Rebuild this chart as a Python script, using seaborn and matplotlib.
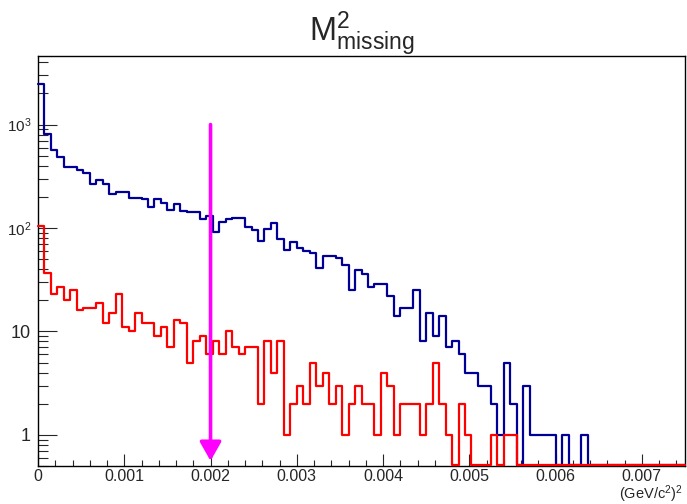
import numpy as np
import pandas as pd
import matplotlib
matplotlib.use("Agg")
import matplotlib.pyplot as plt
import seaborn as sns
from matplotlib.ticker import FixedLocator, NullFormatter

# ---- data (100 bins from 0 to 0.0075) ----
x_min = 0.0
x_max = 0.0075
n_bins = 100

blue_counts = [
    2440, 815, 570, 485, 385, 393, 365, 340, 266, 292,
    268, 213, 225, 222, 196, 196, 190, 161, 192, 174,
    148, 170, 147, 144, 142, 123, 132, 92, 113, 123,
    126, 126, 103, 95, 75, 97, 111, 78, 61, 73,
    64, 60, 57, 41, 54, 54, 51, 44, 25, 39,
    36, 27, 29, 29, 22, 14, 17, 17, 25, 8,
    15, 9, 14, 7, 8, 6, 4, 4, 3, 3,
    2, 1, 5, 2, 0, 3, 1, 1, 1, 1,
    0, 1, 0, 0, 1, 0, 0, 0, 0, 0,
    0, 0, 0, 0, 0, 0, 0, 0, 0, 0,
]

red_counts = [
    105, 37, 23, 27, 20, 25, 16, 17, 17, 19,
    12, 15, 23, 11, 10, 15, 12, 12, 9, 11,
    7, 13, 12, 5, 8, 9, 6, 8, 6, 10,
    7, 6, 7, 7, 2, 8, 4, 8, 1, 2,
    3, 2, 5, 3, 4, 2, 3, 1, 2, 3,
    2, 2, 1, 4, 3, 1, 2, 2, 2, 1,
    2, 5, 2, 1, 0, 2, 1, 0, 0, 0,
    1, 0, 1, 1, 0, 0, 0, 0, 0, 0,
    0, 0, 0, 0, 0, 0, 0, 0, 0, 0,
    0, 0, 0, 0, 0, 0, 0, 0, 0, 0,
]

x_ticks = [0, 0.001, 0.002, 0.003, 0.004, 0.005, 0.006, 0.007]
x_tick_labels = ["0", "0.001", "0.002", "0.003", "0.004", "0.005", "0.006", "0.007"]
y_ticks = [1, 10, 100, 1000]
y_tick_labels = ["1", "10", r"$\mathregular{10^{2}}$", r"$\mathregular{10^{3}}$"]
cut_value = 0.002
arrow_top = 1000
y_lo, y_hi = 0.5, 4600
title = r"$\mathregular{M^{2}_{missing}}$"
x_label = r"$\mathregular{(GeV/c^{2})^{2}}$"

# ---- plotting ----
sns.set_style("white")
plt.rcParams["font.family"] = ["Liberation Sans", "DejaVu Sans"]
plt.rcParams["mathtext.fontset"] = "custom"
plt.rcParams["mathtext.rm"] = "Liberation Sans"

W, H = 687, 504
fig = plt.figure(figsize=(W / 100, H / 100), dpi=100)
ax = fig.add_axes([38 / W, 1 - 466 / H, (685 - 38) / W, (466 - 56) / H])

edges = np.linspace(x_min, x_max, n_bins + 1)
centers = 0.5 * (edges[:-1] + edges[1:])

def floor_zero(v):
    v = np.asarray(v, dtype=float)
    return np.where(v > 0, v, y_lo * 1.012)

df = pd.DataFrame({
    "x": centers,
    "blue": floor_zero(blue_counts),
    "red": floor_zero(red_counts),
})

sns.histplot(data=df, x="x", weights="blue", bins=n_bins, binrange=(x_min, x_max),
             element="step", fill=False, color="#000099", linewidth=1.6,
             zorder=3, clip_on=False, ax=ax)
sns.histplot(data=df, x="x", weights="red", bins=n_bins, binrange=(x_min, x_max),
             element="step", fill=False, color="#ff0000", linewidth=1.6,
             zorder=3.1, clip_on=False, ax=ax)

ax.set_yscale("log")
ax.set_xlim(x_min, x_max)
ax.set_ylim(y_lo, y_hi)

ax.annotate("", xy=(cut_value, 0.56), xytext=(cut_value, arrow_top),
            arrowprops=dict(arrowstyle="-|>,head_length=1.15,head_width=0.65",
                            color="#ff00ff", lw=2.6, mutation_scale=10,
                            shrinkA=0, shrinkB=0), zorder=4)

# ticks
ax.xaxis.set_major_locator(FixedLocator(x_ticks))
ax.set_xticklabels(x_tick_labels)
ax.xaxis.set_minor_locator(FixedLocator(np.arange(0, x_max + 1e-9, 0.0002)))
ax.yaxis.set_major_locator(FixedLocator(y_ticks))
ax.set_yticklabels(y_tick_labels)
minors = [m * 10.0 ** e for e in range(-1, 4) for m in range(2, 10)]
minors = [v for v in minors if y_lo <= v <= y_hi]
ax.yaxis.set_minor_locator(FixedLocator(minors))
ax.yaxis.set_minor_formatter(NullFormatter())

ax.tick_params(axis="x", which="major", direction="in", length=8.5, width=0.8,
               labelsize=11.5, pad=2, bottom=True, top=False)
ax.tick_params(axis="x", which="minor", direction="in", length=4.3, width=0.8,
               bottom=True, top=False)
ax.tick_params(axis="y", which="major", direction="in", length=13.5, width=0.8,
               labelsize=11, pad=5, left=True, right=False)
ax.tick_params(axis="y", which="minor", direction="in", length=7, width=0.8,
               left=True, right=False)
for lab in ax.get_yticklabels():
    if "$" not in lab.get_text():
        lab.set_fontsize(13)

for s in ax.spines.values():
    s.set_color("black")
    s.set_linewidth(1.0)
ax.set_xlabel("")
ax.set_ylabel("")

fig.text(362 / W, 1 - 41 / H, title, ha="center", va="baseline", fontsize=23.5)
fig.text(683 / W, 1 - 499 / H, x_label, ha="right", va="baseline", fontsize=10.5)

fig.savefig("out.png", dpi=100)
